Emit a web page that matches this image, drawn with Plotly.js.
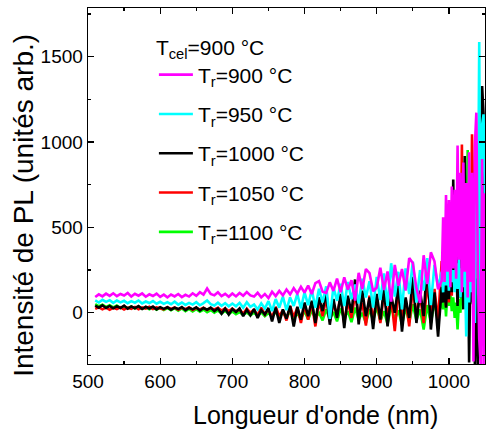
<!DOCTYPE html>
<html>
<head>
<meta charset="utf-8">
<script src="https://cdn.plot.ly/plotly-3.0.1.min.js"></script>
<style>html,body{margin:0;padding:0;background:#fff;}#chart{width:486px;height:433px;}</style>
</head>
<body>
<div id="chart"></div>
<script>
// Wavelength grid (nm)
const wavelength = [
510,515,520,525,530,535,540,545,550,555,560,565,570,575,580,585,590,595,600,
605,610,615,620,625,630,635,640,645,650,655,660,665,670,675,680,685,690,695,700,
705,710,715,720,725,730,735,740,745,750,755,760,765,770,775,780,785,790,795,800,
805,810,815,820,825,830,835,840,845,850,855,860,865,870,875,880,885,890,895,900,
905,910,915,920,925,930,935,940,945,950,955,960,965,970,975,980,985,990,
992,994,996,998,1000,1002,1004,1006,1008,1010,1012,1014,1016,1018,1020,
1022,1024,1026,1028,1030,1032,1034,1036,1038,1040,1042,1044,1046,1048,1050];

// Tr = 900 °C (magenta)
const pl900 = [
92,108,96,112,99,114,97,110,101,116,95,111,100,113,94,108,98,112,93,
106,90,107,96,110,92,105,95,114,99,120,106,142,110,102,120,98,111,94,113,
96,116,100,121,102,95,117,90,110,86,123,98,128,102,136,108,144,113,152,118,
160,110,174,185,123,116,178,128,200,120,207,136,190,72,234,138,256,232,126,148,
264,133,242,65,280,158,257,130,320,292,143,58,337,168,354,302,138,188,
560,180,690,240,660,150,740,260,720,200,980,310,820,120,880,
240,760,90,940,180,820,-285,980,1172,260,-150,-300,900,-300,700];

// Tr = 950 °C (cyan)
const pl950 = [
72,60,76,64,74,58,72,61,70,56,68,59,72,55,66,57,69,53,64,
52,62,50,65,48,60,46,58,48,62,44,57,72,50,43,59,41,56,38,54,
38,58,30,62,35,48,20,55,25,68,10,80,30,95,15,90,40,110,25,120,
45,135,30,140,60,155,-35,150,70,170,40,180,80,165,55,200,90,185,30,210,
75,230,40,290,95,240,20,260,110,300,60,250,130,320,45,280,150,240,
120,310,160,280,130,300,180,250,120,290,140,320,90,260,150,
280,-139,300,60,340,120,420,-60,700,300,1586,-156,1100,1162,600];

// Tr = 1000 °C (black)
const pl1000 = [
42,30,44,28,40,26,38,28,42,24,37,27,39,22,35,25,36,20,33,
23,32,18,30,22,34,16,29,20,32,13,28,18,30,10,26,-5,24,-10,22,
5,25,-20,18,-15,22,-30,15,-10,28,-50,30,-60,20,-35,40,-80,35,-40,60,
-20,70,-60,90,10,120,-70,80,-30,110,-90,100,0,195,-68,130,-20,90,-95,110,
-40,140,-80,100,0,160,-110,90,-30,210,-60,130,-20,297,-98,120,-140,150,
60,190,30,260,80,420,120,781,150,300,40,520,90,380,20,
918,100,450,-291,340,60,500,-300,200,-300,420,900,1328,1160,300];

// Tr = 1050 °C (red)
const pl1050 = [
23,32,20,30,18,29,22,32,19,30,23,34,20,31,24,35,22,32,25,
20,33,23,31,18,29,21,32,17,28,20,30,16,27,19,29,13,26,10,24,
8,20,-5,25,0,18,-15,30,-10,22,-30,35,-20,15,-45,40,-25,30,-60,45,
-40,60,-80,70,-20,85,-50,50,-10,95,-60,70,-30,110,-20,60,-75,100,-40,80,
-60,120,-20,90,-107,130,-30,80,-80,150,-20,110,-60,170,0,140,-50,303,
80,200,40,280,60,350,100,500,150,420,60,400,200,985,100,
520,20,700,120,200,1045,600,50,400,0,300,100,500,200,350];

// Tr = 1100 °C (green)
const pl1100 = [
50,38,47,34,44,31,42,28,39,26,37,25,35,23,33,20,32,18,30,
16,28,15,27,12,25,10,23,8,21,6,19,3,16,0,14,-4,12,-7,8,
-8,4,-12,2,-15,0,-18,3,-20,-2,-22,5,-25,0,-28,8,-30,-5,-35,10,
-40,15,-30,0,-45,20,-38,5,-50,25,-35,10,-55,30,-40,0,-60,20,-45,35,
-50,10,-65,40,-40,15,-70,30,-55,50,-45,20,-98,45,-60,60,-40,80,
20,120,-21,135,40,110,10,90,-30,60,-98,80,0,300,50,
600,100,953,150,400,50,200,-40,300,80,150,20,200,60,100];

const seriesNames = ['T<sub>r</sub>=900 °C','T<sub>r</sub>=950 °C','T<sub>r</sub>=1000 °C','T<sub>r</sub>=1050 °C','T<sub>r</sub>=1100 °C'];
const legendTitle = 'T<sub>cel</sub>=900 °C';
const xTitle = "Longueur d'onde (nm)";
const yTitle = 'Intensité de PL (unités arb.)';

const colors = ['#ff00ff','#00ffff','#000000','#ff0000','#00ff00'];
const ys = [pl900, pl950, pl1000, pl1050, pl1100];

// draw green first, magenta last (on top)
const traces = [];
for (let i = ys.length - 1; i >= 0; i--) {
  traces.push({
    type: 'scatter', mode: 'lines',
    x: wavelength, y: ys[i],
    name: seriesNames[i],
    legendrank: i + 1,
    legendgroup: 'g' + i,
    line: {color: colors[i], width: 2.6},
    hoverinfo: 'skip'
  });
}

const FONT = 'Liberation Sans, Arial, sans-serif';
const layout = {
  width: 486, height: 433,
  margin: {l: 88, r: 1, t: 8, b: 69},
  paper_bgcolor: '#fff', plot_bgcolor: '#fff',
  font: {family: FONT, color: '#000'},
  showlegend: true,
  legend: {
    x: 0.166, xanchor: 'left', y: 0.946, yanchor: 'top',
    bgcolor: 'rgba(0,0,0,0)', borderwidth: 0,
    font: {family: FONT, size: 21, color: '#000'},
    title: {text: legendTitle, font: {family: FONT, size: 21, color: '#000'}},
    tracegroupgap: 9,
    itemwidth: 34
  },
  xaxis: {
    range: [500, 1050], dtick: 100, tick0: 500,
    ticks: 'inside', ticklen: 6, tickwidth: 1.2, tickcolor: '#000',
    minor: {dtick: 50, ticks: 'inside', ticklen: 3, tickwidth: 1.2, tickcolor: '#000'},
    showline: true, linecolor: '#000', linewidth: 1.3, mirror: 'ticks',
    showgrid: false, zeroline: false,
    tickfont: {family: FONT, size: 19, color: '#000'}
  },
  yaxis: {
    range: [-300, 1785], dtick: 500, tick0: 0,
    ticks: 'inside', ticklen: 6, tickwidth: 1.2, tickcolor: '#000',
    minor: {dtick: 250, ticks: 'inside', ticklen: 3, tickwidth: 1.2, tickcolor: '#000'},
    showline: true, linecolor: '#000', linewidth: 1.3, mirror: 'ticks',
    showgrid: false, zeroline: false,
    tickfont: {family: FONT, size: 19, color: '#000'},
    ticklabelstandoff: 0
  },
  annotations: [
    {text: xTitle, xref: 'paper', yref: 'paper', x: 0.572, y: -0.143,
     xanchor: 'center', yanchor: 'middle', showarrow: false,
     font: {family: FONT, size: 25, color: '#000'}},
    {text: yTitle, xref: 'paper', yref: 'paper', x: -0.163, y: 0.445,
     xanchor: 'center', yanchor: 'middle', showarrow: false, textangle: -90,
     font: {family: FONT, size: 28, color: '#000'}}
  ]
};

Plotly.newPlot('chart', traces, layout, {staticPlot: true, displayModeBar: false});
</script>
</body>
</html>
